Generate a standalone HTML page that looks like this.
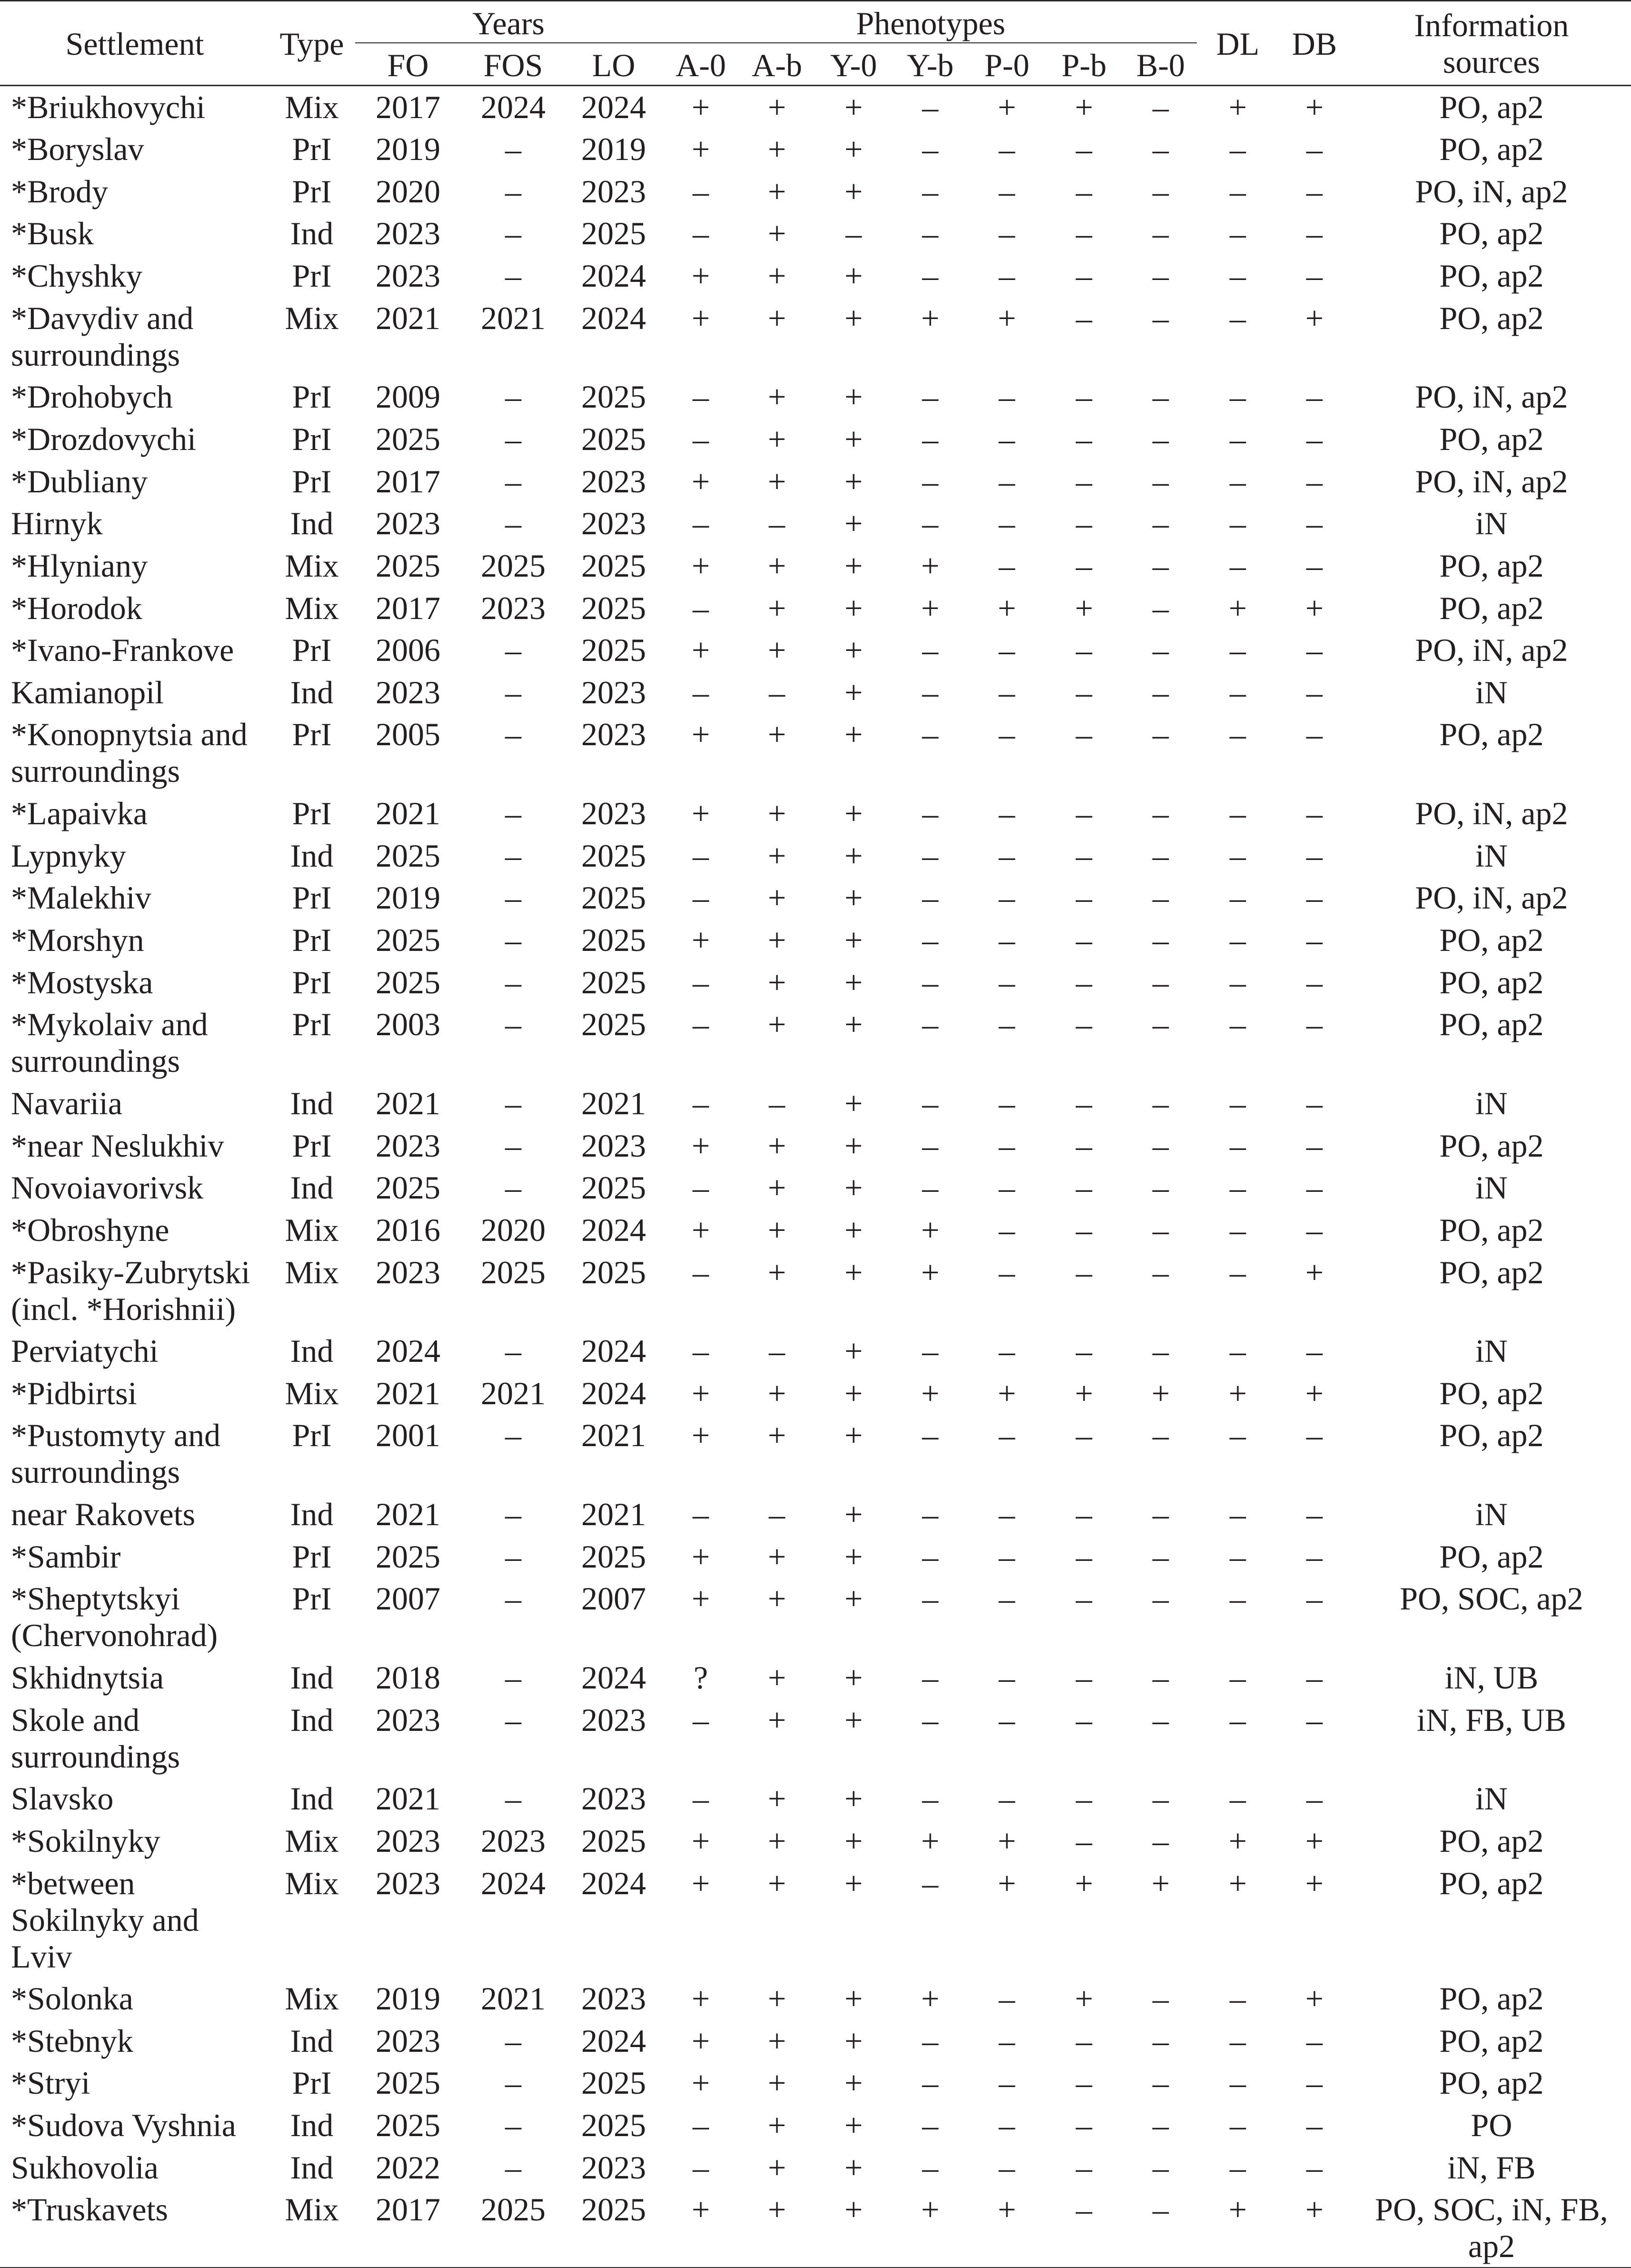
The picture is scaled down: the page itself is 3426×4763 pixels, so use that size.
<!DOCTYPE html>
<html>
<head>
<meta charset="utf-8">
<style>
html,body{margin:0;padding:0;background:#fff;}
body{width:3426px;height:4763px;position:relative;overflow:hidden;
 font-family:"Liberation Serif",serif;font-size:68px;color:#231f20;}
.rule{position:absolute;background:#2a2a2a;}
.h{position:absolute;line-height:77px;white-space:nowrap;text-align:center;}
#body{position:absolute;left:0;top:180px;width:3426px;}
.r{display:grid;grid-template-columns:566px 178px 226px 216px 206px 160px 160px 162px 160px 162px 162px 160px 164px 158px 586px;
 padding:6.5px 0 5.15px 0;line-height:77px;}
.r b,.r i{font-weight:normal;font-style:normal;display:block;text-align:center;white-space:nowrap;}
.r b{text-align:left;padding-left:23px;}
</style>
</head>
<body>
<!-- rules -->
<div class="rule" style="left:0;top:0;width:3426px;height:2.5px;"></div>
<div class="rule" style="left:746px;top:89px;width:1768px;height:2px;"></div>
<div class="rule" style="left:0;top:178px;width:3426px;height:2.5px;"></div>
<div class="rule" style="left:0;top:4760.5px;width:3426px;height:2.5px;"></div>

<!-- header -->
<div class="h" style="left:0;width:566px;top:53.5px;">Settlement</div>
<div class="h" style="left:566px;width:178px;top:53.5px;">Type</div>
<div class="h" style="left:744px;width:648px;top:10.5px;">Years</div>
<div class="h" style="left:744px;width:226px;top:98.5px;">FO</div>
<div class="h" style="left:970px;width:216px;top:98.5px;">FOS</div>
<div class="h" style="left:1186px;width:206px;top:98.5px;">LO</div>
<div class="h" style="left:1392px;width:1126px;top:10.5px;">Phenotypes</div>
<div class="h" style="left:1392px;width:160px;top:98.5px;">A-0</div>
<div class="h" style="left:1552px;width:160px;top:98.5px;">A-b</div>
<div class="h" style="left:1712px;width:162px;top:98.5px;">Y-0</div>
<div class="h" style="left:1874px;width:160px;top:98.5px;">Y-b</div>
<div class="h" style="left:2034px;width:162px;top:98.5px;">P-0</div>
<div class="h" style="left:2196px;width:162px;top:98.5px;">P-b</div>
<div class="h" style="left:2358px;width:160px;top:98.5px;">B-0</div>
<div class="h" style="left:2518px;width:164px;top:53.5px;">DL</div>
<div class="h" style="left:2682px;width:158px;top:53.5px;">DB</div>
<div class="h" style="left:2840px;width:586px;top:14.5px;">Information<br>sources</div>

<div id="body">
<div class="r"><b>*Briukhovychi</b><i>Mix</i><i>2017</i><i>2024</i><i>2024</i><i>+</i><i>+</i><i>+</i><i>–</i><i>+</i><i>+</i><i>–</i><i>+</i><i>+</i><i>PO, ap2</i></div>
<div class="r"><b>*Boryslav</b><i>PrI</i><i>2019</i><i>–</i><i>2019</i><i>+</i><i>+</i><i>+</i><i>–</i><i>–</i><i>–</i><i>–</i><i>–</i><i>–</i><i>PO, ap2</i></div>
<div class="r"><b>*Brody</b><i>PrI</i><i>2020</i><i>–</i><i>2023</i><i>–</i><i>+</i><i>+</i><i>–</i><i>–</i><i>–</i><i>–</i><i>–</i><i>–</i><i>PO, iN, ap2</i></div>
<div class="r"><b>*Busk</b><i>Ind</i><i>2023</i><i>–</i><i>2025</i><i>–</i><i>+</i><i>–</i><i>–</i><i>–</i><i>–</i><i>–</i><i>–</i><i>–</i><i>PO, ap2</i></div>
<div class="r"><b>*Chyshky</b><i>PrI</i><i>2023</i><i>–</i><i>2024</i><i>+</i><i>+</i><i>+</i><i>–</i><i>–</i><i>–</i><i>–</i><i>–</i><i>–</i><i>PO, ap2</i></div>
<div class="r"><b>*Davydiv and<br>surroundings</b><i>Mix</i><i>2021</i><i>2021</i><i>2024</i><i>+</i><i>+</i><i>+</i><i>+</i><i>+</i><i>–</i><i>–</i><i>–</i><i>+</i><i>PO, ap2</i></div>
<div class="r"><b>*Drohobych</b><i>PrI</i><i>2009</i><i>–</i><i>2025</i><i>–</i><i>+</i><i>+</i><i>–</i><i>–</i><i>–</i><i>–</i><i>–</i><i>–</i><i>PO, iN, ap2</i></div>
<div class="r"><b>*Drozdovychi</b><i>PrI</i><i>2025</i><i>–</i><i>2025</i><i>–</i><i>+</i><i>+</i><i>–</i><i>–</i><i>–</i><i>–</i><i>–</i><i>–</i><i>PO, ap2</i></div>
<div class="r"><b>*Dubliany</b><i>PrI</i><i>2017</i><i>–</i><i>2023</i><i>+</i><i>+</i><i>+</i><i>–</i><i>–</i><i>–</i><i>–</i><i>–</i><i>–</i><i>PO, iN, ap2</i></div>
<div class="r"><b>Hirnyk</b><i>Ind</i><i>2023</i><i>–</i><i>2023</i><i>–</i><i>–</i><i>+</i><i>–</i><i>–</i><i>–</i><i>–</i><i>–</i><i>–</i><i>iN</i></div>
<div class="r"><b>*Hlyniany</b><i>Mix</i><i>2025</i><i>2025</i><i>2025</i><i>+</i><i>+</i><i>+</i><i>+</i><i>–</i><i>–</i><i>–</i><i>–</i><i>–</i><i>PO, ap2</i></div>
<div class="r"><b>*Horodok</b><i>Mix</i><i>2017</i><i>2023</i><i>2025</i><i>–</i><i>+</i><i>+</i><i>+</i><i>+</i><i>+</i><i>–</i><i>+</i><i>+</i><i>PO, ap2</i></div>
<div class="r"><b>*Ivano-Frankove</b><i>PrI</i><i>2006</i><i>–</i><i>2025</i><i>+</i><i>+</i><i>+</i><i>–</i><i>–</i><i>–</i><i>–</i><i>–</i><i>–</i><i>PO, iN, ap2</i></div>
<div class="r"><b>Kamianopil</b><i>Ind</i><i>2023</i><i>–</i><i>2023</i><i>–</i><i>–</i><i>+</i><i>–</i><i>–</i><i>–</i><i>–</i><i>–</i><i>–</i><i>iN</i></div>
<div class="r"><b>*Konopnytsia and<br>surroundings</b><i>PrI</i><i>2005</i><i>–</i><i>2023</i><i>+</i><i>+</i><i>+</i><i>–</i><i>–</i><i>–</i><i>–</i><i>–</i><i>–</i><i>PO, ap2</i></div>
<div class="r"><b>*Lapaivka</b><i>PrI</i><i>2021</i><i>–</i><i>2023</i><i>+</i><i>+</i><i>+</i><i>–</i><i>–</i><i>–</i><i>–</i><i>–</i><i>–</i><i>PO, iN, ap2</i></div>
<div class="r"><b>Lypnyky</b><i>Ind</i><i>2025</i><i>–</i><i>2025</i><i>–</i><i>+</i><i>+</i><i>–</i><i>–</i><i>–</i><i>–</i><i>–</i><i>–</i><i>iN</i></div>
<div class="r"><b>*Malekhiv</b><i>PrI</i><i>2019</i><i>–</i><i>2025</i><i>–</i><i>+</i><i>+</i><i>–</i><i>–</i><i>–</i><i>–</i><i>–</i><i>–</i><i>PO, iN, ap2</i></div>
<div class="r"><b>*Morshyn</b><i>PrI</i><i>2025</i><i>–</i><i>2025</i><i>+</i><i>+</i><i>+</i><i>–</i><i>–</i><i>–</i><i>–</i><i>–</i><i>–</i><i>PO, ap2</i></div>
<div class="r"><b>*Mostyska</b><i>PrI</i><i>2025</i><i>–</i><i>2025</i><i>–</i><i>+</i><i>+</i><i>–</i><i>–</i><i>–</i><i>–</i><i>–</i><i>–</i><i>PO, ap2</i></div>
<div class="r"><b>*Mykolaiv and<br>surroundings</b><i>PrI</i><i>2003</i><i>–</i><i>2025</i><i>–</i><i>+</i><i>+</i><i>–</i><i>–</i><i>–</i><i>–</i><i>–</i><i>–</i><i>PO, ap2</i></div>
<div class="r"><b>Navariia</b><i>Ind</i><i>2021</i><i>–</i><i>2021</i><i>–</i><i>–</i><i>+</i><i>–</i><i>–</i><i>–</i><i>–</i><i>–</i><i>–</i><i>iN</i></div>
<div class="r"><b>*near Neslukhiv</b><i>PrI</i><i>2023</i><i>–</i><i>2023</i><i>+</i><i>+</i><i>+</i><i>–</i><i>–</i><i>–</i><i>–</i><i>–</i><i>–</i><i>PO, ap2</i></div>
<div class="r"><b>Novoiavorivsk</b><i>Ind</i><i>2025</i><i>–</i><i>2025</i><i>–</i><i>+</i><i>+</i><i>–</i><i>–</i><i>–</i><i>–</i><i>–</i><i>–</i><i>iN</i></div>
<div class="r"><b>*Obroshyne</b><i>Mix</i><i>2016</i><i>2020</i><i>2024</i><i>+</i><i>+</i><i>+</i><i>+</i><i>–</i><i>–</i><i>–</i><i>–</i><i>–</i><i>PO, ap2</i></div>
<div class="r"><b>*Pasiky-Zubrytski<br>(incl. *Horishnii)</b><i>Mix</i><i>2023</i><i>2025</i><i>2025</i><i>–</i><i>+</i><i>+</i><i>+</i><i>–</i><i>–</i><i>–</i><i>–</i><i>+</i><i>PO, ap2</i></div>
<div class="r"><b>Perviatychi</b><i>Ind</i><i>2024</i><i>–</i><i>2024</i><i>–</i><i>–</i><i>+</i><i>–</i><i>–</i><i>–</i><i>–</i><i>–</i><i>–</i><i>iN</i></div>
<div class="r"><b>*Pidbirtsi</b><i>Mix</i><i>2021</i><i>2021</i><i>2024</i><i>+</i><i>+</i><i>+</i><i>+</i><i>+</i><i>+</i><i>+</i><i>+</i><i>+</i><i>PO, ap2</i></div>
<div class="r"><b>*Pustomyty and<br>surroundings</b><i>PrI</i><i>2001</i><i>–</i><i>2021</i><i>+</i><i>+</i><i>+</i><i>–</i><i>–</i><i>–</i><i>–</i><i>–</i><i>–</i><i>PO, ap2</i></div>
<div class="r"><b>near Rakovets</b><i>Ind</i><i>2021</i><i>–</i><i>2021</i><i>–</i><i>–</i><i>+</i><i>–</i><i>–</i><i>–</i><i>–</i><i>–</i><i>–</i><i>iN</i></div>
<div class="r"><b>*Sambir</b><i>PrI</i><i>2025</i><i>–</i><i>2025</i><i>+</i><i>+</i><i>+</i><i>–</i><i>–</i><i>–</i><i>–</i><i>–</i><i>–</i><i>PO, ap2</i></div>
<div class="r"><b>*Sheptytskyi<br>(Chervonohrad)</b><i>PrI</i><i>2007</i><i>–</i><i>2007</i><i>+</i><i>+</i><i>+</i><i>–</i><i>–</i><i>–</i><i>–</i><i>–</i><i>–</i><i>PO, SOC, ap2</i></div>
<div class="r"><b>Skhidnytsia</b><i>Ind</i><i>2018</i><i>–</i><i>2024</i><i>?</i><i>+</i><i>+</i><i>–</i><i>–</i><i>–</i><i>–</i><i>–</i><i>–</i><i>iN, UB</i></div>
<div class="r"><b>Skole and<br>surroundings</b><i>Ind</i><i>2023</i><i>–</i><i>2023</i><i>–</i><i>+</i><i>+</i><i>–</i><i>–</i><i>–</i><i>–</i><i>–</i><i>–</i><i>iN, FB, UB</i></div>
<div class="r"><b>Slavsko</b><i>Ind</i><i>2021</i><i>–</i><i>2023</i><i>–</i><i>+</i><i>+</i><i>–</i><i>–</i><i>–</i><i>–</i><i>–</i><i>–</i><i>iN</i></div>
<div class="r"><b>*Sokilnyky</b><i>Mix</i><i>2023</i><i>2023</i><i>2025</i><i>+</i><i>+</i><i>+</i><i>+</i><i>+</i><i>–</i><i>–</i><i>+</i><i>+</i><i>PO, ap2</i></div>
<div class="r"><b>*between<br>Sokilnyky and<br>Lviv</b><i>Mix</i><i>2023</i><i>2024</i><i>2024</i><i>+</i><i>+</i><i>+</i><i>–</i><i>+</i><i>+</i><i>+</i><i>+</i><i>+</i><i>PO, ap2</i></div>
<div class="r"><b>*Solonka</b><i>Mix</i><i>2019</i><i>2021</i><i>2023</i><i>+</i><i>+</i><i>+</i><i>+</i><i>–</i><i>+</i><i>–</i><i>–</i><i>+</i><i>PO, ap2</i></div>
<div class="r"><b>*Stebnyk</b><i>Ind</i><i>2023</i><i>–</i><i>2024</i><i>+</i><i>+</i><i>+</i><i>–</i><i>–</i><i>–</i><i>–</i><i>–</i><i>–</i><i>PO, ap2</i></div>
<div class="r"><b>*Stryi</b><i>PrI</i><i>2025</i><i>–</i><i>2025</i><i>+</i><i>+</i><i>+</i><i>–</i><i>–</i><i>–</i><i>–</i><i>–</i><i>–</i><i>PO, ap2</i></div>
<div class="r"><b>*Sudova Vyshnia</b><i>Ind</i><i>2025</i><i>–</i><i>2025</i><i>–</i><i>+</i><i>+</i><i>–</i><i>–</i><i>–</i><i>–</i><i>–</i><i>–</i><i>PO</i></div>
<div class="r"><b>Sukhovolia</b><i>Ind</i><i>2022</i><i>–</i><i>2023</i><i>–</i><i>+</i><i>+</i><i>–</i><i>–</i><i>–</i><i>–</i><i>–</i><i>–</i><i>iN, FB</i></div>
<div class="r"><b>*Truskavets</b><i>Mix</i><i>2017</i><i>2025</i><i>2025</i><i>+</i><i>+</i><i>+</i><i>+</i><i>+</i><i>–</i><i>–</i><i>+</i><i>+</i><i>PO, SOC, iN, FB,<br>ap2</i></div>
</div>
</body>
</html>
